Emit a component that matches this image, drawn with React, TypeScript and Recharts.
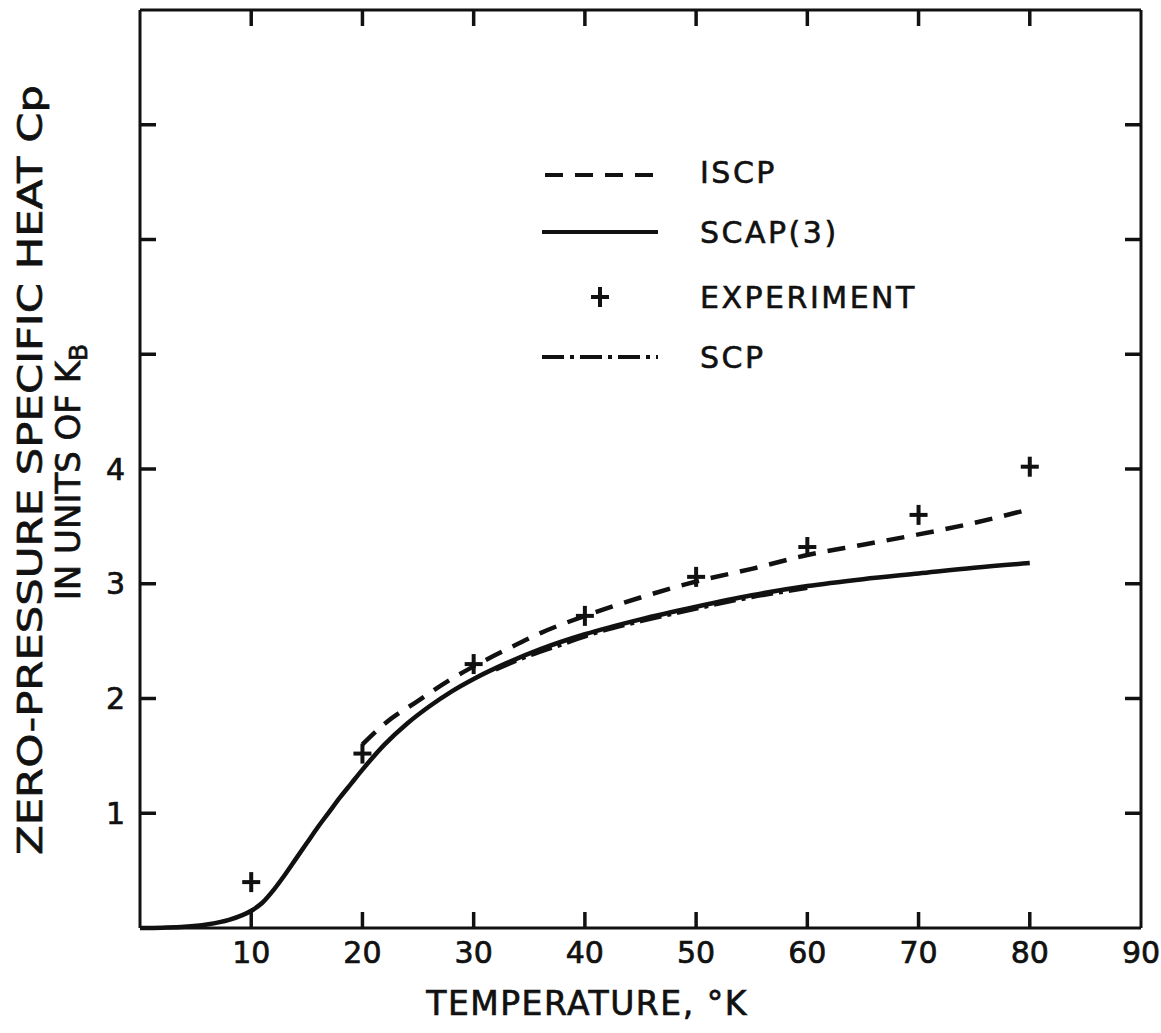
import { ComposedChart, Line, Scatter, XAxis, YAxis, Legend, ReferenceLine } from "recharts";

const INK = "#111";
const FONT = "'DejaVu Sans', sans-serif";

// temperature ticks (°K) and specific heat ticks (k_B)
const xTicks = [10, 20, 30, 40, 50, 60, 70, 80, 90];
const xInnerTicks = [10, 20, 30, 40, 50, 60, 70, 80];
const yTicks = [1, 2, 3, 4, 5, 6, 7];
const yLabelMax = 4;

// SCAP(3) solid curve
const scapT = [0, 2, 4, 6, 8, 10, 11, 12, 13, 14, 15, 16, 17, 18, 19, 20, 22, 24, 26, 28, 30, 33, 36, 40, 45, 50, 55, 60, 65, 70, 75, 80];
const scapCp = [0, 0.003, 0.01, 0.03, 0.07, 0.15, 0.22, 0.33, 0.46, 0.6, 0.74, 0.88, 1.01, 1.14, 1.26, 1.38, 1.6, 1.78, 1.93, 2.06, 2.17, 2.31, 2.43, 2.56, 2.69, 2.8, 2.9, 2.98, 3.04, 3.09, 3.14, 3.18];

// ISCP dashed curve
const iscpT = [20, 22, 25, 28, 30, 33, 36, 40, 45, 50, 55, 60, 65, 70, 75, 80];
const iscpCp = [1.6, 1.78, 1.98, 2.17, 2.28, 2.43, 2.57, 2.72, 2.88, 3.02, 3.13, 3.25, 3.34, 3.43, 3.53, 3.65];

// SCP dash-dot curve (runs along SCAP(3))
const scpT = [32, 35, 38, 41, 45, 50, 55, 60];
const scpCp = [2.25, 2.37, 2.47, 2.57, 2.67, 2.78, 2.88, 2.96];

// experiment points
const expT = [10, 20, 30, 40, 50, 60, 70, 80];
const expCp = [0.4, 1.52, 2.3, 2.72, 3.06, 3.32, 3.6, 4.02];

const toPoints = (t: number[], cp: number[]) => t.map((x, i) => ({ t: x, cp: cp[i] }));

const scapData = toPoints(scapT, scapCp);
const iscpData = toPoints(iscpT, iscpCp);
const scpData = toPoints(scpT, scpCp);
const expData = toPoints(expT, expCp);

const X_MAX = 90;
const Y_MAX = 8;

// plot frame in page pixels (margin + axis sizes below)
const PLOT = { left: 140, right: 1141, top: 10, bottom: 928 };
const px = (t: number) => PLOT.left + (t / X_MAX) * (PLOT.right - PLOT.left);

// inward tick marks on the left and right sides
const leftMarks = yTicks.map((v) => ({ t: 0, cp: v }));
const rightMarks = yTicks.map((v) => ({ t: X_MAX, cp: v }));

const TICK_LEN = 16;

const tickMark = (dx: number, dy: number) => (props: any) => {
  const { cx, cy } = props;
  return <line x1={cx} y1={cy} x2={cx + dx} y2={cy + dy} stroke={INK} strokeWidth={3.5} />;
};

const textStyle = { fontFamily: FONT, fill: INK, stroke: INK, strokeWidth: 0.7 };
const tickText = { ...textStyle, fontSize: 30 };

const Plus = (props: any) => {
  const { cx, cy } = props;
  return (
    <g stroke={INK} strokeWidth={4}>
      <line x1={cx - 9} y1={cy} x2={cx + 9} y2={cy} />
      <line x1={cx} y1={cy - 10} x2={cx} y2={cy + 10} />
    </g>
  );
};

const legendRows = [
  { name: "ISCP", kind: "dash" },
  { name: "SCAP(3)", kind: "solid" },
  { name: "EXPERIMENT", kind: "plus" },
  { name: "SCP", kind: "dashdot" },
];

const LegendBox = () => (
  <svg width={440} height={250}>
    {legendRows.map((row, i) => {
      const y = [32, 92, 157, 217][i];
      return (
        <g key={row.name}>
          {row.kind === "dash" && <line x1={15} y1={y + 3} x2={125} y2={y + 3} stroke={INK} strokeWidth={4} strokeDasharray="18 12" />}
          {row.kind === "solid" && <line x1={12} y1={y} x2={128} y2={y} stroke={INK} strokeWidth={4} />}
          {row.kind === "plus" && <Plus cx={70} cy={y} />}
          {row.kind === "dashdot" && <line x1={12} y1={y} x2={128} y2={y} stroke={INK} strokeWidth={4} strokeDasharray="22 6 4 6" />}
          <text x={170} y={y} dominantBaseline="central" fontSize={30} letterSpacing={2.5} {...textStyle} strokeWidth={0.6}>
            {row.name}
          </text>
        </g>
      );
    })}
  </svg>
);

export default function App() {
  return (
    <div style={{ position: "absolute", left: 0, top: 0, width: 1161, height: 1033, background: "#fff" }}>
      <ComposedChart width={1161} height={1033} margin={{ top: 10, right: 20, bottom: 75, left: 80 }}>
        <XAxis
          dataKey="t"
          type="number"
          domain={[0, X_MAX]}
          ticks={xTicks}
          interval={0}
          tickSize={12}
          tickLine={false}
          axisLine={{ stroke: INK, strokeWidth: 3 }}
          tick={tickText}
        />
        <YAxis
          type="number"
          domain={[0, Y_MAX]}
          ticks={yTicks}
          interval={0}
          tickSize={13}
          tickLine={false}
          tickFormatter={(v: number) => (v <= yLabelMax ? String(v) : "")}
          axisLine={{ stroke: INK, strokeWidth: 3 }}
          tick={tickText}
        />
        {/* top and right sides of the frame */}
        <ReferenceLine y={Y_MAX} stroke={INK} strokeWidth={3} ifOverflow="visible" />
        <ReferenceLine x={X_MAX} stroke={INK} strokeWidth={3} ifOverflow="visible" />
        <Scatter data={leftMarks} dataKey="cp" shape={tickMark(TICK_LEN, 0)} isAnimationActive={false} />
        <Scatter data={rightMarks} dataKey="cp" shape={tickMark(-TICK_LEN, 0)} isAnimationActive={false} />
        <Line data={scapData} dataKey="cp" type="monotone" stroke={INK} strokeWidth={4.5} dot={false} isAnimationActive={false} />
        <Line data={scpData} dataKey="cp" type="monotone" stroke={INK} strokeWidth={3.5} strokeDasharray="22 6 4 6" dot={false} isAnimationActive={false} />
        <Line data={iscpData} dataKey="cp" type="monotone" stroke={INK} strokeWidth={4.5} strokeDasharray="18 12" dot={false} isAnimationActive={false} />
        <Scatter data={expData} dataKey="cp" shape={<Plus />} isAnimationActive={false} />
        <Legend
          layout="vertical"
          align="center"
          verticalAlign="middle"
          content={<LegendBox />}
          wrapperStyle={{ left: 530, top: 140, width: 440, height: 250 }}
        />
      </ComposedChart>
      <svg width={1161} height={1033} style={{ position: "absolute", left: 0, top: 0, pointerEvents: "none" }}>
        {/* inward tick marks on the bottom and top sides */}
        {xInnerTicks.map((v) => (
          <g key={v} stroke={INK} strokeWidth={3.5}>
            <line x1={px(v)} y1={PLOT.bottom} x2={px(v)} y2={PLOT.bottom - TICK_LEN} />
            <line x1={px(v)} y1={PLOT.top} x2={px(v)} y2={PLOT.top + TICK_LEN} />
          </g>
        ))}
        <text
          transform="translate(30 470) rotate(-90)"
          textAnchor="middle"
          dominantBaseline="central"
          fontSize={34}
          textLength={770}
          lengthAdjust="spacingAndGlyphs"
          {...textStyle}
        >
          ZERO-PRESSURE SPECIFIC HEAT Cp
        </text>
        <text transform="translate(68 472) rotate(-90)" textAnchor="middle" dominantBaseline="central" fontSize={34} {...textStyle}>
          IN UNITS OF K<tspan fontSize={25} dy={10}>B</tspan>
        </text>
        <text x={587} y={1003} textAnchor="middle" dominantBaseline="central" fontSize={33} letterSpacing={1.5} {...textStyle}>
          TEMPERATURE, °K
        </text>
      </svg>
    </div>
  );
}
